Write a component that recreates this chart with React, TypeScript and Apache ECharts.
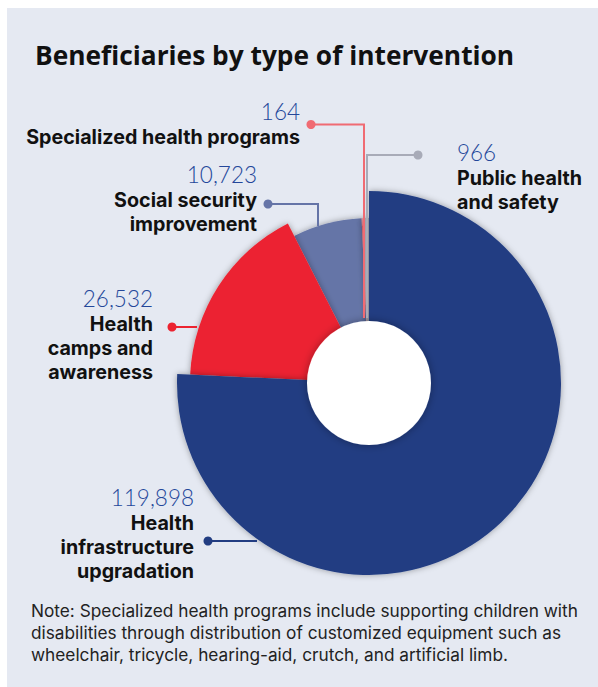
import React, { useEffect, useRef } from "react";
import * as echarts from "echarts";

// ---------- data ----------
const TITLE = "Beneficiaries by type of intervention";
const CATEGORIES = [
  "Health infrastructure upgradation",
  "Health camps and awareness",
  "Social security improvement",
  "Specialized health programs",
  "Public health and safety",
];
const VALUES = [119898, 26532, 10723, 164, 966];
const LABEL_LINES = [
  ["Health", "infrastructure", "upgradation"],
  ["Health", "camps and", "awareness"],
  ["Social security", "improvement"],
  ["Specialized health programs"],
  ["Public health", "and safety"],
];
const NOTE_LINES = [
  "Note: Specialized health programs include supporting children with",
  "disabilities through distribution of customized equipment such as",
  "wheelchair, tricycle, hearing-aid, crutch, and artificial limb.",
];

// ---------- styles / layout ----------
const TITLE_FONT = "'Open Sans', Lato, sans-serif";
const NAME_FONT = "Inter, 'Open Sans', sans-serif";
const VALUE_FONT = "Lato, 'Open Sans', sans-serif";
const COLORS = ["#223d82", "#ec2330", "#6574a7", "#f06b73", "#a8abb8"];
const RADII = [192, 179, 165, 165, 165];
const DRAW_ORDER = [2, 3, 4, 1, 0];
const CENTER = [369, 383];
const HOLE_R = 62;
const BG = "#e5e9f2";
const VALUE_COLOR = "#24479a";
const V_LH = 27;
const N_LH = 24;
// x anchor and vertical centre of the value line
const LABEL_POS = [
  { x: 194, vy: 497, align: "right" },
  { x: 153, vy: 298.5, align: "right" },
  { x: 257, vy: 174.5, align: "right" },
  { x: 300, vy: 111, align: "right" },
  { x: 457, vy: 152.5, align: "left" },
];
const LEADERS = [
  [[208, 541], [257, 541]],
  [[172, 327], [197, 327]],
  [[268, 204], [318, 204], [318, 226]],
  [[311, 124.5], [364, 124.5], [364, 318]],
  [[418, 155], [367, 155], [367, 318]],
];

function buildOption() {
  const shadow = {
    shadowBlur: 6,
    shadowColor: "rgba(0,0,0,0.35)",
    shadowOffsetX: 0,
    shadowOffsetY: 0,
  };
  const sliceSeries = DRAW_ORDER.map((i) => ({
    type: "pie",
    center: CENTER,
    radius: [0, RADII[i]],
    startAngle: 90,
    clockwise: true,
    silent: true,
    avoidLabelOverlap: false,
    minShowLabelAngle: 0,
    emphasis: { disabled: true },
    labelLine: { show: false },
    data: VALUES.map((v, j) => ({
      value: v,
      name: CATEGORIES[j],
      itemStyle:
        j === i
          ? { color: COLORS[j], ...shadow }
          : { color: "rgba(0,0,0,0)" },
      label: { show: j === i },
    })),
    label: {
      position: "outside",
      formatter: (p: any) =>
        "{v|" +
        Number(p.value).toLocaleString("en-US") +
        "}\n" +
        LABEL_LINES[p.dataIndex].map((l) => "{n|" + l + "}").join("\n"),
      rich: {
        v: {
          fontFamily: VALUE_FONT,
          fontSize: 22.5,
          fontWeight: 300,
          color: VALUE_COLOR,
          lineHeight: V_LH,
        },
        n: {
          fontFamily: NAME_FONT,
          fontSize: 19.7,
          fontWeight: "bold",
          color: "#111111",
          lineHeight: N_LH,
        },
      },
    },
    labelLayout: (params: any) => {
      if (params.dataIndex !== i) return {};
      const lp = LABEL_POS[i];
      return {
        x: lp.x,
        y: lp.vy - V_LH / 2,
        align: lp.align,
        verticalAlign: "top",
      };
    },
  }));

  const hole = {
    type: "pie",
    center: CENTER,
    radius: [0, HOLE_R],
    silent: true,
    emphasis: { disabled: true },
    label: { show: false },
    labelLine: { show: false },
    z: 3,
    data: [
      {
        value: 1,
        name: "hole",
        itemStyle: {
          color: "#ffffff",
          shadowBlur: 8,
          shadowColor: "rgba(0,0,0,0.35)",
        },
      },
    ],
  };

  const graphics: any[] = [
    {
      type: "rect",
      z: -10,
      silent: true,
      shape: { x: 7, y: 8, width: 591, height: 679 },
      style: { fill: BG },
    },
    {
      type: "text",
      silent: true,
      style: {
        x: 35,
        y: 54.5,
        text: TITLE,
        fontFamily: TITLE_FONT,
        fontSize: 26.3,
        fontWeight: "bold",
        fill: "#111111",
        verticalAlign: "middle",
      },
    },
    {
      type: "text",
      silent: true,
      style: {
        x: 31,
        y: 599,
        text: NOTE_LINES.join("\n"),
        fontFamily: NAME_FONT,
        fontSize: 17.25,
        lineHeight: 22.3,
        fill: "#222222",
        verticalAlign: "top",
      },
    },
  ];
  LEADERS.forEach((pts, i) => {
    graphics.push({
      type: "polyline",
      silent: true,
      z: 100,
      shape: { points: pts },
      style: { stroke: COLORS[i], lineWidth: 2, fill: null },
    });
    graphics.push({
      type: "circle",
      silent: true,
      z: 101,
      shape: { cx: pts[0][0], cy: pts[0][1], r: 4.5 },
      style: { fill: COLORS[i] },
    });
  });

  return {
    animation: false,
    backgroundColor: "#ffffff",
    graphic: { elements: graphics },
    series: [...sliceSeries, hole],
  };
}

export default function App() {
  const ref = useRef<HTMLDivElement>(null);
  useEffect(() => {
    if (!ref.current) return;
    const chart = echarts.init(ref.current, null, { renderer: "svg" });
    chart.setOption(buildOption() as any);
    return () => chart.dispose();
  }, []);
  return (
    <div
      ref={ref}
      style={{ position: "absolute", left: 0, top: 0, width: 598, height: 687 }}
    />
  );
}
